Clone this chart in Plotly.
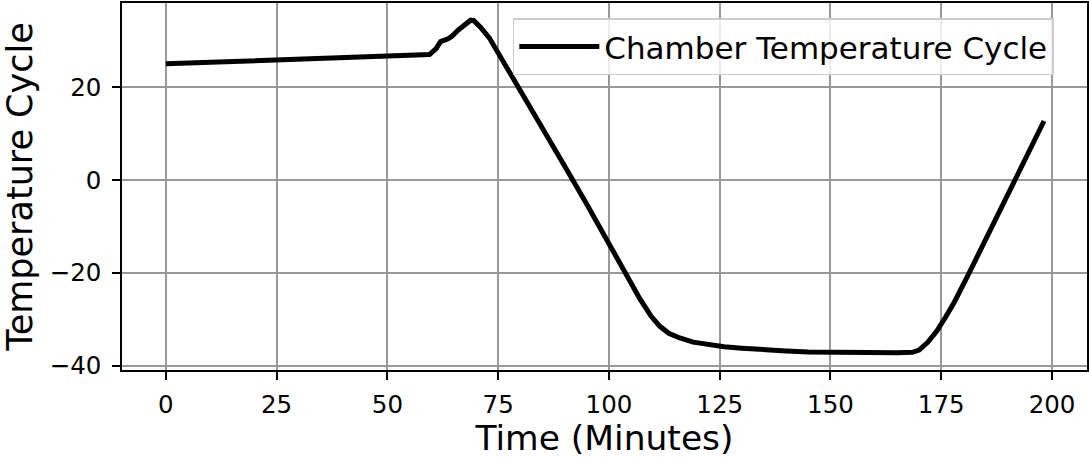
import plotly.graph_objects as go

time_min = [0, 59.5, 61, 62, 63.7, 64.5, 66, 67.5, 68.8, 69.5, 71, 73, 76, 80, 85, 90, 95,
            100, 104, 107, 109.5, 111.5, 113.5, 116, 119, 122, 126, 130, 135, 140, 145,
            150, 155, 160, 165, 168.5, 170, 172, 174, 176, 178, 181, 185, 190, 194, 198.2]
temperature = [25.0, 27.0, 28.3, 29.8, 30.4, 30.9, 32.3, 33.6, 34.4, 34.3, 32.9, 30.6, 25.8,
               18.9, 11.2, 3.0, -5.2, -13.8, -20.6, -25.6, -29.3, -31.5, -33.0, -34.0, -34.9,
               -35.4, -35.9, -36.2, -36.6, -36.8, -37.0, -37.1, -37.1, -37.2, -37.2, -37.1,
               -36.6, -34.9, -32.5, -29.5, -26.2, -20.6, -12.8, -3.2, 4.5, 12.7]
series_name = "Chamber Temperature Cycle"
x_ticks = [0, 25, 50, 75, 100, 125, 150, 175, 200]
y_ticks = [-40, -20, 0, 20]

font_family = "DejaVu Sans"

fig = go.Figure()
fig.add_trace(go.Scatter(
    x=time_min, y=temperature, mode="lines", name=series_name,
    line=dict(color="black", width=5),
))

axis_common = dict(
    showline=True, linecolor="black", linewidth=1.5, mirror=True,
    showgrid=True, gridcolor="#999999", gridwidth=1.5,
    ticks="outside", ticklen=8, tickwidth=1.5, tickcolor="black",
    tickfont=dict(family=font_family, size=24.5, color="black"),
    zeroline=False, automargin=False,
)

fig.update_layout(
    width=1089, height=458,
    margin=dict(l=122, r=2, t=3, b=88),
    plot_bgcolor="white", paper_bgcolor="white",
    font=dict(family=font_family, color="black"),
    showlegend=True,
    legend=dict(
        x=0.405, y=0.958, xanchor="left", yanchor="top",
        bgcolor="rgba(255,255,255,0.8)", bordercolor="#cccccc", borderwidth=1.5,
        font=dict(family=font_family, size=31, color="black"),
        itemwidth=80,
    ),
    xaxis=dict(
        axis_common, range=[-9.9, 207.9], tickvals=x_ticks, ticklabelstandoff=4,
        title=dict(text="Time (Minutes)", font=dict(family=font_family, size=34.5), standoff=6),
    ),
    yaxis=dict(
        axis_common, range=[-40.9, 38.1], tickvals=y_ticks, ticklabelstandoff=6,
        title=dict(text="Temperature Cycle", font=dict(family=font_family, size=35), standoff=13),
    ),
)

fig.write_html("out.html", config={"displayModeBar": False},
               post_script="document.body.style.margin='0';")
